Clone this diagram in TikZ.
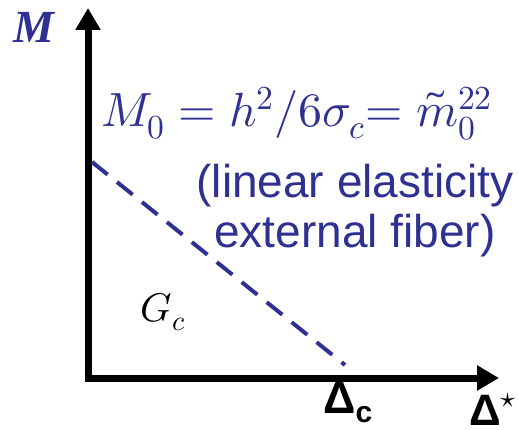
\documentclass[tikz,border=0pt]{standalone}
\usepackage{fontspec}
\usepackage{amsmath}
\usepackage{unicode-math}
\setmathfont{Latin Modern Math}
\newfontfamily\arialf{Liberation Sans}
\newfontfamily\serifb{Liberation Serif}
\usetikzlibrary{arrows.meta}
\definecolor{navy}{RGB}{46,49,146}
\begin{document}
\begin{tikzpicture}[x=1pt,y=-1pt,
  axis/.style={line width=7pt,-{Triangle[width=24pt,length=22pt]}},
  dashline/.style={navy,line width=4pt,dash pattern=on 20pt off 12pt},
  bluetext/.style={text=navy,inner sep=0pt}]
\useasboundingbox (0,0) rectangle (519,430);
\coordinate (O) at (88,378);
\coordinate (ytip) at (88,8);
\coordinate (xtip) at (499,378);
\coordinate (xstart) at (84.5,378);
\coordinate (ystart) at (88,381.5);
\draw[axis] (ystart) -- (ytip);
\draw[axis] (xstart) -- (xtip);
\coordinate (d1) at (92,162);
\coordinate (d2) at (345,365);
\draw[dashline] (d1) -- (d2);
\node[bluetext,anchor=center] (mlab) at (34,27) {\fontsize{46}{50}\selectfont\serifb\bfseries\itshape M};
\node[bluetext,anchor=base west] (formula) at (101,127) {\fontsize{48}{52}\selectfont $M_0=h^2/6\sigma_c{=}\;\tilde{m}_0^{22}$};
\node[bluetext,anchor=center,align=center,font=\fontsize{46}{50}\selectfont\arialf] (lin) at (355,211) {(linear elasticity\\external fiber)};
\node[inner sep=0pt] (gc) at (163,312) {\fontsize{40}{44}\selectfont $G_c$};
\node[inner sep=0pt,anchor=base west] (dc) at (323,413) {\fontsize{45}{48}\selectfont\arialf\bfseries Δ\raisebox{-9pt}{\fontsize{30}{32}\selectfont c}};
\node[inner sep=0pt,anchor=base west] (ds) at (469,425) {\fontsize{44}{48}\selectfont\arialf\bfseries Δ\raisebox{18pt}{\fontsize{30}{32}\selectfont$\star$}};
\end{tikzpicture}
\end{document}
